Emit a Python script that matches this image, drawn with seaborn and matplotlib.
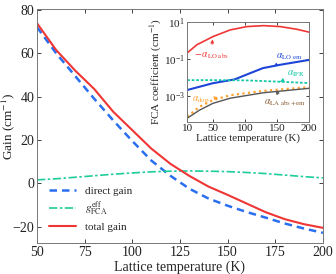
import numpy as np
import matplotlib
matplotlib.use("Agg")
import matplotlib.pyplot as plt
import matplotlib.ticker as mticker
import seaborn as sns

# -------------------------------
# 1. Data
# -------------------------------
# main panel: gain vs lattice temperature
temp_main = [50, 60, 70, 80, 90, 100, 110, 120, 130, 140, 150, 160, 170, 180, 190, 200]
direct_gain = [72, 60, 49.5, 39, 29, 19.5, 10.5, 3.5, -2.5, -7, -10.3, -13.2, -15.8, -18.5, -20.8, -22.8]
g_fca = [1.6, 2.1, 2.8, 3.5, 4.2, 4.8, 5.3, 5.6, 5.7, 5.6, 5.4, 5.0, 4.5, 3.8, 3.1, 2.5]
total_gain = [73.8, 61.5, 52, 43.5, 33, 24.5, 16, 9, 3.4, -1.5, -5.3, -9.3, -13.3, -16.5, -18.8, -20.5]

# inset: FCA coefficients
temp_lo_abs = [10, 25, 50, 77, 103, 129, 155, 181, 200]
alpha_lo_abs = [0.21, 0.58, 1.6, 3.7, 5.6, 6.3, 5.6, 4.0, 2.8]
temp_lo_em = [10, 50, 84, 108, 128, 154, 200]
alpha_lo_em = [2.1e-3, 4.9e-3, 7.9e-3, 0.017, 0.032, 0.048, 0.089]
temp_ifr = [10, 50, 100, 150, 200]
alpha_ifr = [7.2e-3, 7.2e-3, 7.0e-3, 6.0e-3, 5.0e-3]
temp_small = [10, 29, 50, 77, 129, 200]
alpha_dop = [7.6e-5, 2.6e-4, 6.0e-4, 1.1e-3, 1.9e-3, 3.0e-3]
alpha_la = [6.3e-5, 1.7e-4, 4.0e-4, 7.6e-4, 1.5e-3, 2.6e-3]

# -------------------------------
# 2. Style
# -------------------------------
sns.set_theme(style="ticks")
plt.rcParams['font.family'] = ['Liberation Serif', 'DejaVu Serif']
plt.rcParams['mathtext.fontset'] = 'stix'
plt.rcParams['xtick.direction'] = 'in'
plt.rcParams['ytick.direction'] = 'in'

fig = plt.figure(figsize=(3.36, 2.74), dpi=100)
ax = fig.add_axes([0.110, 0.113, 0.851, 0.854])

# -------------------------------
# 3. Main panel
# -------------------------------
sns.lineplot(x=temp_main, y=direct_gain, ax=ax, color="#2a6ff0", lw=1.8,
             linestyle=(0, (3, 2)), label="direct gain")
sns.lineplot(x=temp_main, y=g_fca, ax=ax, color="#1fcc9a", lw=1.2,
             linestyle=(0, (5, 1.5, 1.5, 1.5)), label=r"$g^{\rm eff}_{\rm FCA}$")
sns.lineplot(x=temp_main, y=total_gain, ax=ax, color="#f03535", lw=1.5,
             label="total gain")

ax.set_xlim(50, 200)
ax.set_ylim(-27.5, 80.3)
ax.set_xticks([50, 75, 100, 125, 150, 175, 200])
ax.set_yticks([-20, 0, 20, 40, 60, 80])
ax.set_yticklabels(["\u221220", "0", "20", "40", "60", "80"])
ax.tick_params(labelsize=10, length=3, width=0.6, colors="#222222", top=True, right=True, pad=2)
ax.set_xlabel("Lattice temperature (K)", fontsize=10, labelpad=1)
ax.set_ylabel(r"Gain (cm$^{-1}$)", fontsize=9.5)
ax.yaxis.set_label_coords(-0.07, 0.5)
for s in ax.spines.values():
    s.set_color("#777777")
    s.set_linewidth(0.7)

ax.legend(loc="lower left", bbox_to_anchor=(0.02, 0.02), frameon=False, fontsize=8,
          handlelength=2.4, labelspacing=0.35, borderaxespad=0.2)

# -------------------------------
# 4. Inset
# -------------------------------
ins = fig.add_axes([0.557, 0.555, 0.363, 0.365])
sns.lineplot(x=temp_lo_abs, y=alpha_lo_abs, ax=ins, color="#f03535", lw=1.2)
sns.lineplot(x=temp_lo_em, y=alpha_lo_em, ax=ins, color="#1f45d8", lw=1.5)
sns.lineplot(x=temp_ifr, y=alpha_ifr, ax=ins, color="#14c8a8", lw=1.3, linestyle=(0, (1.5, 1)))
sns.lineplot(x=temp_small, y=alpha_dop, ax=ins, color="#ffa230", lw=1.6, linestyle=(0, (1, 1.5)))
sns.lineplot(x=temp_small, y=alpha_la, ax=ins, color="#555555", lw=1.0)

ins.set_yscale("log")
ins.set_xlim(10, 200)
ins.set_ylim(10 ** -4.4, 10)
ins.set_xticks([10, 50, 100, 150, 200])
ins.yaxis.set_major_locator(mticker.FixedLocator([1e-3, 1e-1, 1e1]))
ins.yaxis.set_major_formatter(mticker.LogFormatterMathtext())
ins.yaxis.set_minor_locator(mticker.NullLocator())
ins.tick_params(labelsize=8, length=2.5, width=0.6, colors="#222222", top=True, right=True, pad=1.5)
ins.set_xlabel("Lattice temperature (K)", fontsize=8, labelpad=0)
ins.set_ylabel(r"FCA coefficient (cm$^{-1}$)", fontsize=8, labelpad=0)
for s in ins.spines.values():
    s.set_color("#777777")
    s.set_linewidth(0.7)

arrow = dict(arrowstyle="-|>", lw=0.6, mutation_scale=5)
ins.annotate(r"$-\,\alpha_{\rm LO\ abs}$", xy=(50, 1.6), xytext=(20, 0.12), fontsize=7,
             color="#f03535", arrowprops=dict(arrow, color="#f03535"))
ins.annotate(r"$\alpha_{\rm LO\ em}$", xy=(145, 0.04), xytext=(148, 0.1), fontsize=7,
             color="#1f45d8", arrowprops=dict(arrow, color="#1f45d8"))
ins.annotate(r"$\alpha_{\rm IFR}$", xy=(155, 6e-3), xytext=(165, 0.013), fontsize=7,
             color="#14c8a8", arrowprops=dict(arrow, color="#14c8a8"))
ins.annotate(r"$\alpha_{\rm dop}$", xy=(62, 9e-4), xytext=(18, 5e-4), fontsize=7,
             color="#ffa230", arrowprops=dict(arrow, color="#ffa230"))
ins.annotate(r"$\alpha_{\rm LA\ abs+em}$", xy=(148, 1.9e-3), xytext=(130, 3.5e-4), fontsize=7,
             color="#8a5a30", arrowprops=dict(arrow, color="#555555"))

fig.savefig("out.png", dpi=100)
